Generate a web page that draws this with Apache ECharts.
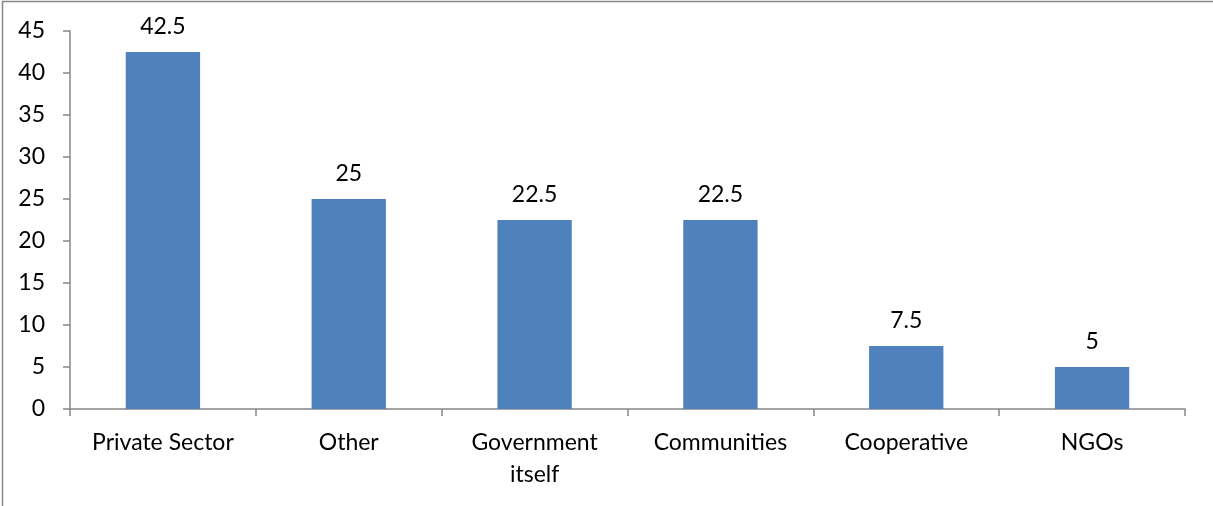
<!DOCTYPE html>
<html><head><meta charset="utf-8">
<script src="https://cdn.jsdelivr.net/npm/echarts@6/dist/echarts.min.js"></script>
<style>html,body{margin:0;padding:0;background:#fff}#c{width:1213px;height:506px}</style>
</head><body><div id="c"></div>
<script>
const categories = ['Private Sector', 'Other', 'Government\nitself', 'Communities', 'Cooperative', 'NGOs'];
const values = [42.5, 25, 22.5, 22.5, 7.5, 5];
const yTicks = {min: 0, max: 45, interval: 5};
const font = 'Lato, "Open Sans", sans-serif';
const chart = echarts.init(document.getElementById('c'));
chart.setOption({
  animation: false,
  graphic: [{type: 'rect', shape: {x: 2.5, y: 1.5, width: 1300, height: 600}, style: {fill: 'none', stroke: '#888', lineWidth: 1.5}, silent: true}],
  grid: {left: 70, right: 28, top: 31, bottom: 97},
  xAxis: {
    type: 'category', data: categories,
    axisLine: {lineStyle: {color: '#868686', width: 1.5}},
    axisTick: {show: true, alignWithLabel: false, length: 7, lineStyle: {color: '#868686', width: 1.5}},
    axisLabel: {color: '#000', fontSize: 23, fontFamily: font, margin: 18, lineHeight: 32, interval: 0}
  },
  yAxis: {
    type: 'value', min: yTicks.min, max: yTicks.max, interval: yTicks.interval,
    splitLine: {show: false},
    axisLine: {show: true, lineStyle: {color: '#868686', width: 1.5}},
    axisTick: {show: true, length: 7, lineStyle: {color: '#868686', width: 1.5}},
    axisLabel: {color: '#000', fontSize: 23, fontFamily: font, margin: 25}
  },
  series: [{
    type: 'bar', data: values, barWidth: '40%',
    itemStyle: {color: '#4F81BD'},
    label: {show: true, position: 'top', distance: 14, color: '#000', fontSize: 23, fontFamily: font}
  }]
});
</script></body></html>
